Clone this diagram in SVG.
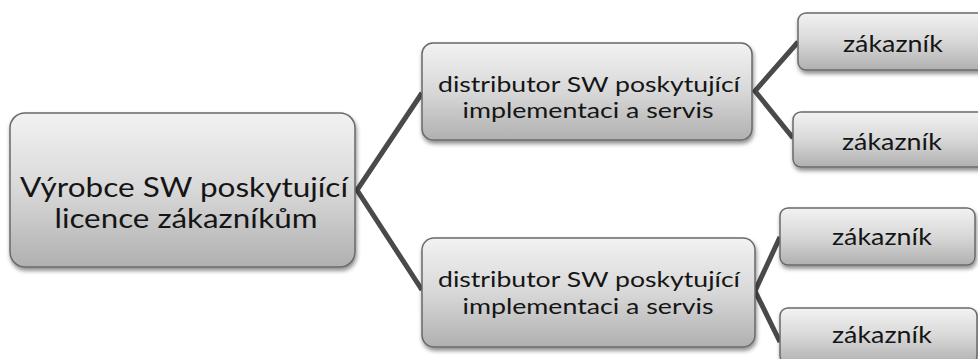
<svg xmlns="http://www.w3.org/2000/svg" width="978" height="359" viewBox="0 0 978 359">
  <defs>
    <linearGradient id="g" x1="0" y1="0" x2="0" y2="1">
      <stop offset="0" stop-color="#f2f2f2"/>
      <stop offset="0.5" stop-color="#d8d8d8"/>
      <stop offset="1" stop-color="#b0b0b0"/>
    </linearGradient>
    <filter id="sh" x="-10%" y="-20%" width="120%" height="150%">
      <feDropShadow dx="1" dy="3" stdDeviation="2" flood-color="#000" flood-opacity="0.45"/>
    </filter>
  </defs>
  <style>
    .box { fill: url(#g); stroke: #6a6a6a; stroke-width: 1.5; filter: url(#sh); }
    .t { font-family: Lato, "Open Sans", "Noto Sans", sans-serif; fill: #151515; text-anchor: middle; }
    .root { font-size: 27px; }
    .mid { font-size: 22px; }
    .leaf { font-size: 24px; }
    .c { stroke: #4a4a4a; stroke-width: 5; fill: none; stroke-linejoin: miter; }
  </style>
  <rect width="978" height="359" fill="#ffffff"/>
  <g id="connectors">
    <polyline class="c" points="422,93 357,190 422,290"/>
    <polyline class="c" points="798,42 755,91 793,138"/>
    <polyline class="c" points="780,237 755,291 780,342"/>
  </g>
  <g id="root">
    <rect class="box" x="10" y="113" width="345" height="154" rx="15"/>
    <text class="t root" x="184" y="197" textLength="328" lengthAdjust="spacingAndGlyphs">Výrobce SW  poskytující</text>
    <text class="t root" x="186" y="228" textLength="263" lengthAdjust="spacingAndGlyphs">licence zákazníkům</text>
  </g>
  <g id="mid1">
    <rect class="box" x="422" y="43" width="330" height="97" rx="11"/>
    <text class="t mid" x="589" y="92" textLength="302" lengthAdjust="spacingAndGlyphs">distributor SW poskytující</text>
    <text class="t mid" x="588" y="118" textLength="251" lengthAdjust="spacingAndGlyphs">implementaci a servis</text>
  </g>
  <g id="mid2">
    <rect class="box" x="422" y="238" width="333" height="109" rx="12"/>
    <text class="t mid" x="589" y="287" textLength="302" lengthAdjust="spacingAndGlyphs">distributor SW poskytující</text>
    <text class="t mid" x="588" y="314" textLength="251" lengthAdjust="spacingAndGlyphs">implementaci a servis</text>
  </g>
  <g id="leaf1">
    <rect class="box" x="798" y="13" width="190" height="57" rx="8"/>
    <text class="t leaf" x="893" y="52" textLength="100" lengthAdjust="spacingAndGlyphs">zákazník</text>
  </g>
  <g id="leaf2">
    <rect class="box" x="793" y="112" width="195" height="55" rx="8"/>
    <text class="t leaf" x="892" y="150" textLength="100" lengthAdjust="spacingAndGlyphs">zákazník</text>
  </g>
  <g id="leaf3">
    <rect class="box" x="780" y="208" width="195" height="57" rx="8"/>
    <text class="t leaf" x="882" y="245" textLength="100" lengthAdjust="spacingAndGlyphs">zákazník</text>
  </g>
  <g id="leaf4">
    <rect class="box" x="780" y="308" width="197" height="56" rx="8"/>
    <text class="t leaf" x="882" y="343" textLength="100" lengthAdjust="spacingAndGlyphs">zákazník</text>
  </g>
</svg>
